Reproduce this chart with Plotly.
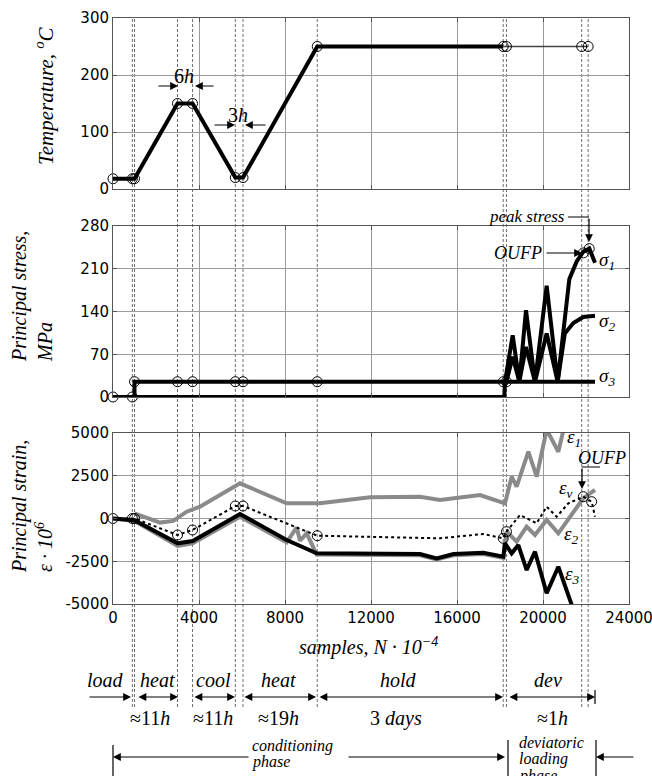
import plotly.graph_objects as go

# ---------------- data ----------------
# temperature history (deg C)
temp_x = [0, 900, 1000, 3000, 3700, 5690, 6047, 9500, 18150]
temp_y = [18, 18, 18, 150, 150, 20, 20, 250, 250]
temp_tail_x = [18150, 18300, 21800, 22100]
temp_tail_y = [250, 250, 250, 250]
temp_pts_x = [0, 900, 1000, 3000, 3700, 5690, 6047, 9500, 18150, 18300, 21800, 22100]
temp_pts_y = [18, 18, 18, 150, 150, 20, 20, 250, 250, 250, 250, 250]

# principal stresses (MPa)
sig3_x = [0, 1000, 1000, 22420]
sig3_y = [0, 0, 25, 25]
sig1_x = [0, 18200, 18233, 18590, 18900, 19209, 19628, 20170, 20682, 21225, 21566, 21876, 22155, 22419]
sig1_y = [0, 0, 25, 101, 25, 142, 25, 182, 25, 193, 222, 238, 243, 220]
sig2_x = [18300, 18590, 18900, 19209, 19628, 20170, 20682, 21015, 21411, 21876, 22419]
sig2_y = [25, 66, 25, 82, 25, 104, 25, 104, 121, 131, 133]
stress_pts_x = [0, 900, 1000, 3000, 3700, 5690, 6047, 9500, 18150, 18300, 21876, 22150]
stress_pts_y = [0, 0, 25, 25, 25, 25, 25, 25, 25, 25, 236, 243]

# principal strains (x 1e6)
eps1_x = [1000, 2186, 2806, 3426, 4047, 5907, 8078, 9628, 11953, 14279, 15209, 17070,
          18233, 18543, 18775, 19318, 19705, 20170, 20713, 21200]
eps1_y = [300, -240, -140, 398, 690, 2057, 889, 889, 1240, 1275, 1082, 1374,
          889, 2444, 1860, 3906, 2444, 5200, 3906, 6500]
eps2_x = [0, 1000, 3008, 3707, 5907, 8078, 8543, 8698, 9008, 9318, 9473, 14279, 15054,
          15837, 17225, 18155, 18310, 18775, 19240, 19628, 20170, 20713, 21876, 22419]
eps2_y = [0, -150, -1600, -1450, 100, -1400, -520, -1300, -866, -1650, -2100, -2150, -2400,
          -2150, -2080, -2300, -772, -1357, -480, -965, -88, -866, 1185, 1667]
eps3_x = [0, 1000, 3008, 3707, 5907, 8078, 9473, 14279, 15054, 15837, 17225, 18155, 18233,
          18543, 18853, 19240, 19628, 20170, 20713, 21333, 21600]
eps3_y = [0, -100, -1450, -1316, 263, -1257, -2037, -2076, -2329, -2076, -2000, -2232, -1450,
          -2037, -1550, -3012, -1940, -4374, -2819, -4960, -6000]
epsv_x = [0, 900, 1000, 3000, 3700, 5690, 6047, 9500, 14279, 15209, 17225, 18000, 18150, 18300,
          18930, 19705, 20170, 20636, 21178, 21876, 22264, 22419]
epsv_y = [0, 0, 0, -965, -672, 731, 731, -1006, -1101, -1158, -906, -1101, -1158, -772,
          205, -281, 690, 105, 889, 1275, 983, 105]
strain_pts_x = [0, 900, 1000, 3000, 3700, 5690, 6047, 9500, 18150, 18300, 21876, 22264]
strain_pts_y = [0, 0, 0, -965, -672, 731, 731, -1006, -1158, -772, 1275, 983]

# event markers (samples)
event_x = [900, 1000, 3000, 3700, 5690, 6047, 9500, 18150, 18300, 21800, 22100]

x_ticks = [0, 4000, 8000, 12000, 16000, 20000, 24000]
x_ticktext = ["0", "4000", "8000", "12000", "16000", "20000", "24000"]
temp_ticks = [0, 100, 200, 300]
stress_ticks = [0, 70, 140, 210, 280]
strain_ticks = [-5000, -2500, 0, 2500, 5000]
strain_ticktext = ["-5000", "-2500", "0", "2500", "5000"]

# ---------------- layout helpers ----------------
W, H = 652, 776
L, R, T, B = 113, 23, 18, 172


def px(x):
    return (x - L) / (W - L - R)


def py(y):
    return (H - B - y) / (H - T - B)


SERIF = "Liberation Serif"
SANS = "DejaVu Sans"
BLACK = "#000000"
GRAY = "#8a8a8a"

fig = go.Figure()

# top panel
fig.add_trace(go.Scatter(x=temp_x, y=temp_y, mode="lines", line=dict(color=BLACK, width=4),
                         xaxis="x", yaxis="y", showlegend=False))
fig.add_trace(go.Scatter(x=temp_tail_x, y=temp_tail_y, mode="lines", line=dict(color="#444", width=1.5),
                         xaxis="x", yaxis="y", showlegend=False))
fig.add_trace(go.Scatter(x=temp_pts_x, y=temp_pts_y, mode="markers",
                         marker=dict(symbol="circle-open", size=10, color=BLACK, line=dict(width=1)),
                         xaxis="x", yaxis="y", showlegend=False, cliponaxis=False))

# middle panel
fig.add_trace(go.Scatter(x=sig2_x, y=sig2_y, mode="lines", line=dict(color=BLACK, width=4),
                         xaxis="x2", yaxis="y2", showlegend=False))
fig.add_trace(go.Scatter(x=sig1_x, y=sig1_y, mode="lines", line=dict(color=BLACK, width=4),
                         xaxis="x2", yaxis="y2", showlegend=False, cliponaxis=False))
fig.add_trace(go.Scatter(x=sig3_x, y=sig3_y, mode="lines", line=dict(color=BLACK, width=4),
                         xaxis="x2", yaxis="y2", showlegend=False, cliponaxis=False))
fig.add_trace(go.Scatter(x=stress_pts_x, y=stress_pts_y, mode="markers",
                         marker=dict(symbol="circle-open", size=10, color=BLACK, line=dict(width=1)),
                         xaxis="x2", yaxis="y2", showlegend=False, cliponaxis=False))

# bottom panel
fig.add_trace(go.Scatter(x=eps1_x, y=eps1_y, mode="lines", line=dict(color=GRAY, width=4),
                         xaxis="x3", yaxis="y3", showlegend=False))
fig.add_trace(go.Scatter(x=eps2_x, y=eps2_y, mode="lines", line=dict(color=GRAY, width=4),
                         xaxis="x3", yaxis="y3", showlegend=False))
fig.add_trace(go.Scatter(x=eps3_x, y=eps3_y, mode="lines", line=dict(color=BLACK, width=4),
                         xaxis="x3", yaxis="y3", showlegend=False))
fig.add_trace(go.Scatter(x=epsv_x, y=epsv_y, mode="lines", line=dict(color=BLACK, width=2, dash="dot"),
                         xaxis="x3", yaxis="y3", showlegend=False))
fig.add_trace(go.Scatter(x=strain_pts_x, y=strain_pts_y, mode="markers",
                         marker=dict(symbol="circle-open", size=10, color=BLACK, line=dict(width=1)),
                         xaxis="x3", yaxis="y3", showlegend=False, cliponaxis=False))

# vertical dashed event lines
shapes = []
for ex in event_x:
    shapes.append(dict(type="line", xref="x3", yref="paper", x0=ex, x1=ex, y0=py(707), y1=1,
                       line=dict(color="#6e6e6e", width=1, dash="3px,2px"), layer="below"))


def seg(x0, y0, x1, y1, w=1.2, c="#000"):
    shapes.append(dict(type="line", xref="paper", yref="paper", x0=px(x0), x1=px(x1),
                       y0=py(y0), y1=py(y1), line=dict(color=c, width=w)))


# leader lines
seg(568, 217, 589, 217, 1)
seg(582, 467, 600, 467, 1)
seg(595, 690, 595, 704, 1.2)
seg(113, 745, 113, 776, 1.2)
seg(508, 740, 508, 776, 1.2)
seg(596, 740, 596, 776, 1.2)

ann = []


def text(x, y, s, size=19, xanchor="center", yanchor="middle", angle=0, align="center", italic=True):
    ann.append(dict(x=px(x), y=py(y), xref="paper", yref="paper", text=s, showarrow=False,
                    xanchor=xanchor, yanchor=yanchor, textangle=angle, align=align,
                    font=dict(family=SERIF, size=size, color=BLACK,
                              style="italic" if italic else "normal")))


def arrow(hx, hy, tx, ty, both=False):
    ann.append(dict(x=px(hx), y=py(hy), xref="paper", yref="paper", text="", showarrow=True,
                    ax=tx - hx, ay=ty - hy, arrowhead=2, arrowsize=1.3, arrowwidth=1.2,
                    arrowcolor=BLACK, standoff=0, startstandoff=0,
                    arrowside="end+start" if both else "end", startarrowhead=2, startarrowsize=1.3))


# axis titles
text(45, 96, "Temperature, <sup>o</sup>C", size=21, angle=-90)
text(32, 297, "Principal stress,<br>MPa", size=20, angle=-90, align="left")
text(32, 507, "Principal strain,<br>ε · 10<sup>6</sup>", size=20, angle=-90, align="left")
text(368, 646, "samples, N · 10<sup>−4</sup>", size=20)

# top annotations
text(184, 76, "6<i>h</i>", size=20, italic=False)
arrow(178, 86, 157, 86)
arrow(195, 86, 215, 86)
text(238, 115, "3<i>h</i>", size=20, italic=False)
arrow(235, 125, 213, 125)
arrow(245, 125, 267, 125)

# middle annotations
text(527, 217, "peak stress", size=17)
arrow(589, 242, 589, 217)
text(518, 253, "OUFP", size=18)
arrow(582, 253, 545, 253)
text(607, 261, "σ<sub>1</sub>", size=19)
text(607, 322, "σ<sub>2</sub>", size=19)
text(607, 377, "σ<sub>3</sub>", size=19)

# bottom annotations
text(574, 438, "ε<sub>1</sub>", size=19)
text(602, 458, "OUFP", size=18)
arrow(582, 489, 582, 467)
text(566, 489, "ε<sub>v</sub>", size=19)
text(571, 535, "ε<sub>2</sub>", size=19)
text(572, 575, "ε<sub>3</sub>", size=19)

# phase annotations
for (cx, s) in [(105, "load"), (157, "heat"), (213, "cool"), (278, "heat"), (398, "hold"), (548, "dev")]:
    text(cx, 680, s, size=20)
arrow(131, 697, 88, 697)
arrow(178, 697, 137, 697, both=True)
arrow(235, 697, 193, 697, both=True)
arrow(316, 697, 243, 697, both=True)
arrow(503, 697, 318, 697, both=True)
arrow(595, 697, 508, 697, both=True)
for (cx, s) in [(150, "≈11<i>h</i>"), (213, "≈11<i>h</i>"), (278, "≈19<i>h</i>"), (396, "3 <i>days</i>"),
                (552, "≈1<i>h</i>")]:
    text(cx, 718, s, size=20, italic=False)
text(250, 746, "conditioning", size=16, xanchor="left")
text(250, 762, "phase", size=16, xanchor="left")
arrow(113, 757, 250, 757)
arrow(505, 757, 347, 757)
text(517, 742, "deviatoric", size=16, xanchor="left")
text(517, 759, "loading", size=16, xanchor="left")
text(517, 776, "phase", size=16, xanchor="left")
arrow(596, 757, 635, 757)

axis_common = dict(showgrid=True, gridcolor="#9a9a9a", gridwidth=1, showline=True, linecolor="#555",
                   linewidth=1, mirror="ticks", ticks="inside", ticklen=4, tickcolor="#555",
                   zeroline=False, ticklabeloverflow="allow",
                   tickfont=dict(family=SANS, size=15, color=BLACK))

fig.update_layout(
    width=W, height=H, margin=dict(l=L, r=R, t=T, b=B, autoexpand=False),
    plot_bgcolor="white", paper_bgcolor="white", showlegend=False, hovermode=False,
    xaxis=dict(domain=[0, 1], anchor="y", range=[0, 24000], tickvals=x_ticks, showticklabels=False, **axis_common),
    xaxis2=dict(domain=[0, 1], anchor="y2", range=[0, 24000], tickvals=x_ticks, showticklabels=False, **axis_common),
    xaxis3=dict(domain=[0, 1], anchor="y3", range=[0, 24000], tickvals=x_ticks, ticktext=x_ticktext,
                **axis_common),
    yaxis=dict(domain=[py(189), 1], anchor="x", range=[0, 300], tickvals=temp_ticks, **axis_common),
    yaxis2=dict(domain=[py(397), py(226)], anchor="x2", range=[0, 280], tickvals=stress_ticks, **axis_common),
    yaxis3=dict(domain=[0, py(433)], anchor="x3", range=[-5000, 5000], tickvals=strain_ticks,
                ticktext=strain_ticktext, **axis_common),
    shapes=shapes, annotations=ann,
)

# remove the default page margin so the figure sits at the window's top-left corner
fig.write_html("out.html", config={"displayModeBar": False},
               post_script="document.body.style.margin='0';")
